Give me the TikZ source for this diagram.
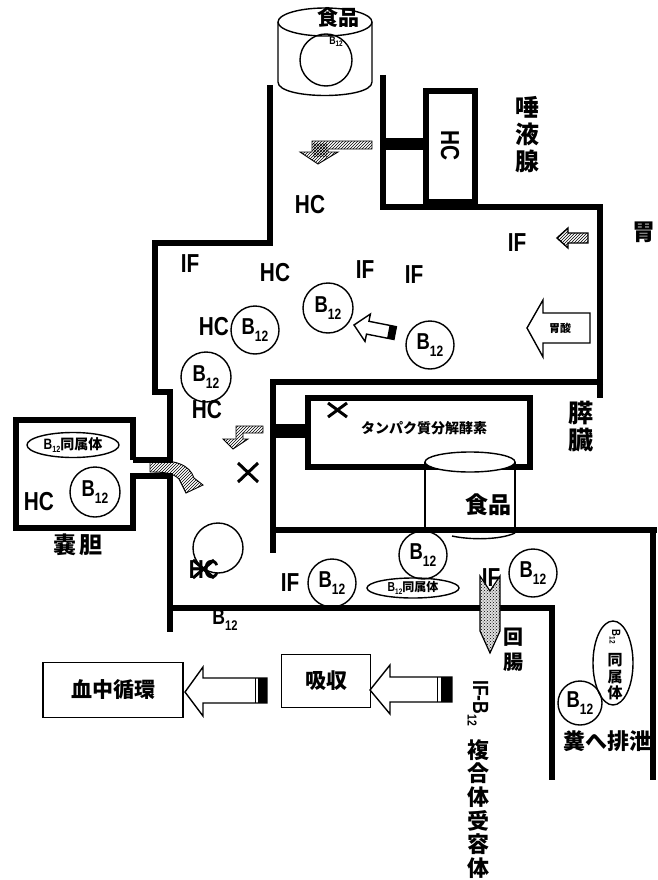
\documentclass[tikz,border=0pt]{standalone}
\usepackage{fontspec}
\setmainfont{Liberation Sans}
\newfontfamily\lat{Liberation Sans}
\newfontfamily\cjk{Noto Sans CJK JP}
\usetikzlibrary{patterns,shapes.geometric}
\newcommand\nar[1]{\scalebox{0.8}[1]{#1}}
\newcommand\Bsb[2]{\nar{B\raisebox{-#2}{\fontsize{#1}{#1}\selectfont 12}}}
\begin{document}
\begin{tikzpicture}[x=1pt,y=-1pt,
  wall/.style={line width=6.5pt, line join=miter},
  thinl/.style={line width=1.4pt},
  bcirc/.style={circle, draw, line width=1.4pt, minimum size=#1, inner sep=0pt, font=\lat\bfseries\fontsize{23}{23}\selectfont},
  bcirc/.default=48pt,
  ltxt/.style={font=\lat\bfseries\fontsize{26}{26}\selectfont, inner sep=0pt},
  jtxt/.style={font=\cjk\bfseries\fontsize{23}{25}\selectfont, inner sep=0pt, align=center},
  hatch/.style={draw, line width=0.9pt, pattern=north east lines},
  openarrow/.style={draw, line width=1.4pt, fill=white},
]
\fill[white] (0,0) rectangle (657,880);
\clip (0,0) rectangle (657,880);

% ---------------- walls ----------------
\draw[wall] (270,85) -- (270,243) -- (155,243) -- (155,392) -- (170,392) -- (170,460) -- (133,460);
\draw[wall] (133,460) -- (133,420) -- (16,420) -- (16,528) -- (133,528) -- (133,476) -- (170,476) -- (170,632);
\draw[wall] (170,608) -- (480,608);
\draw[wall] (500,608) -- (552,608) -- (552,780);
\draw[wall] (383,75) -- (383,207) -- (600,207) -- (600,398);
\draw[wall] (426,91) rectangle (475,202);
\fill (383,138) rectangle (426,150);
\draw[wall] (603,382) -- (273,382) -- (273,553);
\draw[wall] (273,530) -- (657,530);
\draw[wall] (653,530) -- (653,780);
% pancreas
\draw[wall] (308,398) rectangle (530,467);
\fill (273,424) rectangle (308,438);

% ---------------- food cylinders ----------------
\draw[thinl] (278,22) -- (278,82) .. controls (278,100) and (372,100) .. (372,82) -- (372,22);
\draw[thinl] (325,22) ellipse [x radius=47, y radius=14];
\node[bcirc=52pt] (ctop) at (326,60) {};
\node[jtxt, font=\cjk\bfseries\fontsize{21}{21}\selectfont] (food1) at (338,17) {食品};
\node[font=\lat\bfseries\fontsize{11}{11}\selectfont, inner sep=0pt] (btop) at (336,42) {\Bsb{8}{0.2em}};

\draw[thinl] (425,462) -- (425,530);
\draw[thinl] (515,462) -- (515,530);
\draw[thinl, fill=white] (470,462) ellipse [x radius=45, y radius=10];
\draw[thinl] (452,536) .. controls (470,540) and (500,540) .. (515,533);
\node[jtxt] (food2) at (488,505) {食品};

% ---------------- salivary gland ----------------
\node[ltxt, rotate=-90] (hcsal) at (450,146) {\nar{HC}};
\node[jtxt, font=\cjk\bfseries\fontsize{24}{27}\selectfont] (saliv) at (527,135) {唾\\液\\腺};

% hatched arrow in oesophagus
\path[hatch] (372,141) -- (312,141) -- (312,152) -- (300,152) -- (318,164) -- (338,152) -- (328,152) -- (328,149) -- (372,149) -- cycle;
\fill[pattern=crosshatch] (313,143) rectangle (327,156);

% ---------------- stomach ----------------
\node[ltxt] (hc1) at (310,205) {\nar{HC}};
\node[ltxt] (if1) at (190,264) {\nar{IF}};
\node[ltxt] (hc2) at (275,273) {\nar{HC}};
\node[ltxt] (if2) at (365,270) {\nar{IF}};
\node[ltxt] (if3) at (414,275) {\nar{IF}};
\node[ltxt] (if4) at (517,243) {\nar{IF}};
\node[jtxt] (stom) at (644,232) {胃};

\node[bcirc=50pt] (b1) at (328,308) {\Bsb{15}{0.3em}};
\node[bcirc] (b2) at (255,330) {\Bsb{15}{0.3em}};
\node[ltxt] (hc3) at (214,327) {\nar{HC}};
\node[bcirc] (b3) at (430,345) {\Bsb{15}{0.3em}};
\node[bcirc=50pt] (b4) at (206,377) {\Bsb{15}{0.3em}};
\node[ltxt] (hc4) at (207,410) {\nar{HC}};

% IF arrow (hatched)
\path[hatch, line width=1.4pt] (588,233) -- (568,233) -- (568,228) -- (557,238) -- (568,248) -- (568,243) -- (588,243) -- cycle;

% acid arrow
\path[openarrow] (590,313) -- (543,313) -- (543,300) -- (527,328) -- (543,357) -- (543,343) -- (590,343) -- cycle;
\node[font=\cjk\bfseries\fontsize{11}{11}\selectfont, inner sep=0pt] (acid) at (560,328) {胃酸};

% diagonal open arrow
\path[openarrow] (354,325) -- (370.4,314.0) -- (368.9,321.3) -- (396.4,326.7) -- (393.9,339.5) -- (366.5,334.1) -- (365.0,341.4) -- cycle;
\fill (389.5,325.3) -- (396.4,326.7) -- (393.9,339.5) -- (387.1,338.1) -- cycle;

% ---------------- pancreas ----------------
\node[jtxt, font=\cjk\bfseries\fontsize{14}{14}\selectfont] (enz) at (424,428) {タンパク質分解酵素};
\draw[line width=3pt] (328,403) -- (347,417) (347,403) -- (328,417);
\node[jtxt, font=\cjk\bfseries\fontsize{25}{27}\selectfont] (panc) at (581,427) {膵\\臓};
\path[hatch] (263,426) -- (236,426) -- (236,439) -- (223,439) -- (233,449) -- (248,439) -- (243,439) -- (243,433) -- (263,433) -- cycle;
\draw[line width=3pt] (238,463) -- (258,482) (258,463) -- (238,482);

% ---------------- gallbladder ----------------
\node[draw, ellipse, thinl, minimum width=92pt, minimum height=25pt, inner sep=0pt] (e1) at (73,445) {};
\node[inner sep=0pt] (e1t) at (73,445) {{\lat\bfseries\fontsize{15}{15}\selectfont\Bsb{9}{0.2em}}{\cjk\bfseries\fontsize{14}{14}\selectfont 同属体}};
\node[bcirc=50pt] (b5) at (95,492) {\Bsb{15}{0.3em}};
\node[ltxt] (hc5) at (39,502) {\nar{HC}};
\node[jtxt] (gall) at (78,545) {嚢\,胆};
\path[hatch] (150,461) .. controls (175,459) and (190,465) .. (194,478) -- (203,485) -- (186,493) -- (179,479) .. controls (173,473) and (165,472) .. (150,472) -- cycle;

% ---------------- duodenum ----------------
\node[bcirc=50pt] (b6) at (218,548) {};
\node[ltxt] (hc6) at (204,570) {\nar{HC}};
\draw[line width=3pt] (193,560) -- (214,578) (214,560) -- (193,578);
\node[ltxt] (if5) at (290,583) {\nar{IF}};
\node[bcirc] (b7) at (332,583) {\Bsb{15}{0.3em}};
\node[draw, ellipse, thinl, minimum width=92pt, minimum height=20pt, inner sep=0pt] (e2) at (413,588) {};
\node[inner sep=0pt] (e2t) at (413,588) {{\lat\bfseries\fontsize{13}{13}\selectfont\Bsb{8}{0.2em}}{\cjk\bfseries\fontsize{12}{12}\selectfont 同属体}};
\node[bcirc] (b8) at (423,555) {\Bsb{15}{0.3em}};
\node[bcirc] (b9) at (533,573) {\Bsb{15}{0.3em}};
\node[ltxt] (if6) at (491,578) {\nar{IF}};
\node[font=\lat\bfseries\fontsize{22}{22}\selectfont, inner sep=0pt] (bfree) at (225,620) {\Bsb{14}{0.3em}};

% dotted receptor arrow
\path[draw, line width=1.2pt, fill=gray!25, postaction={pattern=crosshatch dots}] (480,576) -- (490,591) -- (500,576) -- (500,631) -- (490,653) -- (480,631) -- cycle;
\node[jtxt, font=\cjk\bfseries\fontsize{20}{25}\selectfont] (ileum) at (513,650) {回\\腸};

% receptor label
\node[font=\lat\bfseries\fontsize{22}{22}\selectfont, inner sep=0pt, rotate=-90] (ifb) at (478,703) {\nar{IF-}\Bsb{13}{0.25em}};
\node[jtxt, font=\cjk\bfseries\fontsize{22}{23.6}\selectfont] (recep) at (478,809) {複\\合\\体\\受\\容\\体};

% ---------------- right: excretion ----------------
\node[draw, ellipse, thinl, minimum width=40pt, minimum height=84pt, inner sep=0pt] (e3) at (613,663) {};
\node[font=\lat\bfseries\fontsize{12}{12}\selectfont, inner sep=0pt, rotate=-90] (e3b) at (615,637) {\Bsb{8}{0.2em}};
\node[jtxt, font=\cjk\bfseries\fontsize{15}{16.5}\selectfont] (e3t) at (615,677) {同\\属\\体};
\node[bcirc=44pt] (b10) at (580,703) {\Bsb{15}{0.3em}};
\node[jtxt, anchor=west, font=\cjk\bfseries\fontsize{22}{22}\selectfont] (feces) at (563,741) {糞へ排泄};

% ---------------- absorption ----------------
\node[draw, thinl, minimum width=140pt, minimum height=55pt, inner sep=0pt, font=\cjk\bfseries\fontsize{21}{21}\selectfont] (blood) at (113,690) {血中循環};
\node[draw, thinl, minimum width=89pt, minimum height=53pt, inner sep=0pt, font=\cjk\bfseries\fontsize{21}{21}\selectfont] (absorb) at (326,681) {吸収};
\path[openarrow] (452,677) -- (390,677) -- (390,665) -- (370,690) -- (390,714) -- (390,702) -- (452,702) -- cycle;
\fill (441,677) rectangle (452,702);
\draw[line width=1pt] (437,677) -- (437,702);
\path[openarrow] (267,678) -- (203,678) -- (203,667) -- (185,692) -- (203,716) -- (203,703) -- (267,703) -- cycle;
\fill (258,678) rectangle (267,703);
\draw[line width=1pt] (255,678) -- (255,703);
\end{tikzpicture}
\end{document}
